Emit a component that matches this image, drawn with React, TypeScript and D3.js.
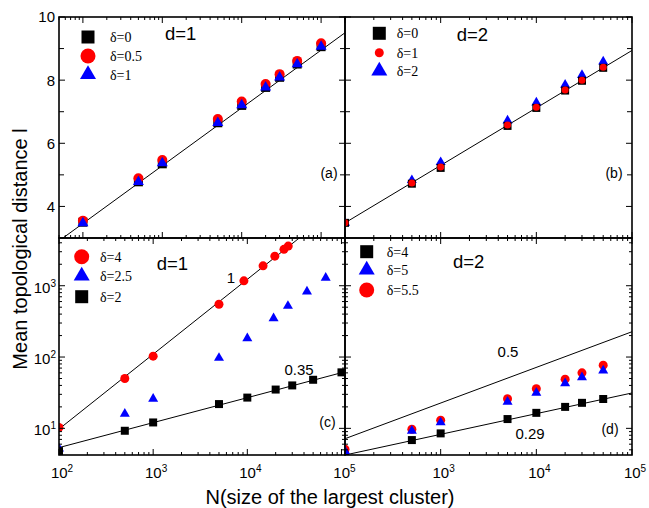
import React, { useRef, useEffect } from "react";
import * as d3 from "d3";

// ---- data ----
// (a) d=1, linear l vs log N
const nA = [100, 500, 1000, 5000, 10000, 20000, 30000, 50000, 100000];
const aDelta0 = [3.5, 4.78, 5.35, 6.65, 7.2, 7.77, 8.09, 8.51, 9.06];
const aDelta05 = [3.55, 4.89, 5.47, 6.77, 7.32, 7.88, 8.19, 8.61, 9.17];
const aDelta1 = [3.47, 4.78, 5.37, 6.65, 7.21, 7.77, 8.09, 8.51, 9.06];

// (b) d=2
const nB = [100, 500, 1000, 5000, 10000, 20000, 30000, 50000];
const bDelta0 = [3.48, 4.72, 5.22, 6.55, 7.12, 7.67, 7.98, 8.39];
const bDelta1 = [3.48, 4.74, 5.25, 6.58, 7.14, 7.69, 8.0, 8.41];
const bDelta2 = [3.48, 4.83, 5.4, 6.72, 7.29, 7.85, 8.16, 8.59];

// (c) d=1, log-log
const nC4 = [100, 500, 1000, 5000, 9200, 14700, 19600, 24500, 27200];
const cDelta4 = [10.3, 50, 103, 550, 1170, 1900, 2600, 3240, 3600];
const nC25 = [100, 500, 1000, 5000, 10000, 19000, 27000, 43000, 68000];
const cDelta25 = [5.2, 16, 26, 97, 183, 350, 520, 830, 1290];
const nC2 = [100, 500, 1000, 5000, 10000, 20000, 30000, 50000, 100000];
const cDelta2 = [4.8, 9.25, 12.1, 21.9, 27, 35, 40, 48, 61];

// (d) d=2, log-log
const nD = [100, 500, 1000, 5000, 10000, 20000, 30000, 50000];
const dDelta4 = [4.5, 6.85, 8.5, 13.5, 16.5, 20, 22.8, 25.8];
const dDelta5 = [4.8, 9.25, 12.1, 23.6, 31.5, 42.8, 52, 64.6];
const dDelta55 = [5.1, 9.7, 13, 26, 36, 49, 60, 77];

// fitted lines: value = a + b*(log10 N - 2)  (log10 of value for log panels)
const fitA = { a: 3.46, b: 1.83 };
const fitB = { a: 3.48, b: 1.82 };
const fitC1 = { a: 0.99, b: 1.05 };
const fitC035 = { a: 0.73, b: 0.35 };
const fitD05 = { a: 0.855, b: 0.5 };
const fitD029 = { a: 0.626, b: 0.29 };

const linTicksMajor = [4, 6, 8, 10];
const linTicksMinor = [3, 5, 7, 9];

const W = 649;
const H = 508;
const X0 = 59, XM = 345, X1 = 632;
const Y0 = 17, YM = 238, Y1 = 455;

const SANS = "'Liberation Sans', Arial, Helvetica, sans-serif";
const SERIF = "'Liberation Serif', 'Times New Roman', serif";

const symbolPath = (shape, w) => {
  if (shape === "square") return d3.symbol(d3.symbolSquare, w * w)();
  if (shape === "circle") return d3.symbol(d3.symbolCircle, (Math.PI * w * w) / 4)();
  return d3.symbol(d3.symbolTriangle, (Math.sqrt(3) / 4) * w * w)();
};

const logTicks = (domain) => {
  const major = [];
  const minor = [];
  const lo = Math.floor(Math.log10(domain[0]));
  const hi = Math.ceil(Math.log10(domain[1]));
  for (let e = lo; e <= hi; e++) {
    for (let k = 1; k <= 9; k++) {
      const v = k * Math.pow(10, e);
      if (v < domain[0] * 0.999 || v > domain[1] * 1.001) continue;
      (k === 1 ? major : minor).push(v);
    }
  }
  return { major, minor };
};

const App = () => {
  const svgRef = useRef(null);

  useEffect(() => {
    const svg = d3.select(svgRef.current);
    svg.selectAll("*").remove();
    const defs = svg.append("defs");

    const xA = d3.scaleLog().domain([50, 2e5]).range([X0, XM]);
    const xB = d3.scaleLog().domain([100, 1e5]).range([XM, X1]);
    const xC = d3.scaleLog().domain([100, 1.09e5]).range([X0, XM]);
    const xD = d3.scaleLog().domain([100, 1e5]).range([XM, X1]);
    const yTop = d3.scaleLinear().domain([3, 10]).range([YM, Y0]);
    const yBot = d3.scaleLog().domain([4.23, 4670]).range([Y1, YM]);

    const drawPanel = (p) => {
      const [px0, px1] = p.x.range();
      const [py1, py0] = p.y.range();
      const clipId = "clip-" + p.id;
      defs
        .append("clipPath")
        .attr("id", clipId)
        .append("rect")
        .attr("x", px0)
        .attr("y", py0)
        .attr("width", px1 - px0)
        .attr("height", py1 - py0);

      const g = svg.append("g");
      const plot = g.append("g").attr("clip-path", `url(#${clipId})`);

      // fit lines
      const line = d3
        .line()
        .x((d) => p.x(d[0]))
        .y((d) => p.y(d[1]));
      p.fits.forEach((f) => {
        const pts = p.x.domain().map((n) => {
          const v = f.a + f.b * (Math.log10(n) - 2);
          return [n, p.logY ? Math.pow(10, v) : v];
        });
        plot
          .append("path")
          .datum(pts)
          .attr("d", line)
          .attr("fill", "none")
          .attr("stroke", "#000")
          .attr("stroke-width", 1);
      });

      // markers
      p.series.forEach((s) => {
        plot
          .append("g")
          .selectAll("path")
          .data(s.n.map((n, i) => [n, s.v[i]]))
          .join("path")
          .attr("transform", (d) => `translate(${p.x(d[0])},${p.y(d[1])})`)
          .attr("d", symbolPath(s.shape, s.size))
          .attr("fill", s.color);
      });

      // ticks, all four sides pointing inwards
      const ticks = g.append("g").attr("stroke", "#000").attr("stroke-width", 1);
      const xt = logTicks(p.x.domain());
      const yt = p.logY
        ? logTicks(p.y.domain())
        : { major: linTicksMajor, minor: linTicksMinor };
      const addX = (vals, len) =>
        vals.forEach((v) => {
          const x = p.x(v);
          ticks.append("line").attr("x1", x).attr("x2", x).attr("y1", py1).attr("y2", py1 - len);
          ticks.append("line").attr("x1", x).attr("x2", x).attr("y1", py0).attr("y2", py0 + len);
        });
      const addY = (vals, len) =>
        vals.forEach((v) => {
          const y = p.y(v);
          ticks.append("line").attr("x1", px0).attr("x2", px0 + len).attr("y1", y).attr("y2", y);
          ticks.append("line").attr("x1", px1).attr("x2", px1 - len).attr("y1", y).attr("y2", y);
        });
      addX(xt.major, 6);
      addX(xt.minor, 3);
      addY(yt.major, 6);
      addY(yt.minor, p.logY ? 3 : 5);

      // frame
      g.append("rect")
        .attr("x", px0)
        .attr("y", py0)
        .attr("width", px1 - px0)
        .attr("height", py1 - py0)
        .attr("fill", "none")
        .attr("stroke", "#000")
        .attr("stroke-width", 1.6);

      // legend
      p.legend.rows.forEach((r, i) => {
        const cy = p.legend.ys[i];
        g.append("path")
          .attr("transform", `translate(${p.legend.x},${cy})`)
          .attr("d", symbolPath(r.shape, r.size))
          .attr("fill", r.color);
        g.append("text")
          .attr("x", p.legend.tx)
          .attr("y", cy + 5)
          .attr("font-family", SERIF)
          .attr("font-size", 14)
          .text(r.label);
      });

      g.append("text")
        .attr("x", p.title.x)
        .attr("y", p.title.y)
        .attr("font-family", SANS)
        .attr("font-size", 18.5)
        .text(p.title.text);

      g.append("text")
        .attr("x", p.tag.x)
        .attr("y", p.tag.y)
        .attr("text-anchor", "middle")
        .attr("font-family", SANS)
        .attr("font-size", 14)
        .text(p.tag.text);

      (p.notes || []).forEach((n) => {
        g.append("text")
          .attr("x", n.x)
          .attr("y", n.y)
          .attr("text-anchor", "middle")
          .attr("font-family", SANS)
          .attr("font-size", 15)
          .text(n.text);
      });
    };

    drawPanel({
      id: "a",
      x: xA,
      y: yTop,
      logY: false,
      fits: [fitA],
      series: [
        { n: nA, v: aDelta0, shape: "square", color: "#000", size: 9 },
        { n: nA, v: aDelta05, shape: "circle", color: "#ff0000", size: 10 },
        { n: nA, v: aDelta1, shape: "triangle", color: "#0000ff", size: 11 },
      ],
      legend: {
        x: 88,
        tx: 110,
        ys: [37, 56, 74.5],
        rows: [
          { label: "δ=0", shape: "square", color: "#000", size: 13 },
          { label: "δ=0.5", shape: "circle", color: "#ff0000", size: 15 },
          { label: "δ=1", shape: "triangle", color: "#0000ff", size: 16 },
        ],
      },
      title: { text: "d=1", x: 165, y: 40 },
      tag: { text: "(a)", x: 329, y: 178 },
    });

    drawPanel({
      id: "b",
      x: xB,
      y: yTop,
      logY: false,
      fits: [fitB],
      series: [
        { n: nB, v: bDelta2, shape: "triangle", color: "#0000ff", size: 10 },
        { n: nB, v: bDelta0, shape: "square", color: "#000", size: 8 },
        { n: nB, v: bDelta1, shape: "circle", color: "#ff0000", size: 7 },
      ],
      legend: {
        x: 379.3,
        tx: 396.7,
        ys: [33.3, 52.7, 71],
        rows: [
          { label: "δ=0", shape: "square", color: "#000", size: 13 },
          { label: "δ=1", shape: "circle", color: "#ff0000", size: 9 },
          { label: "δ=2", shape: "triangle", color: "#0000ff", size: 16 },
        ],
      },
      title: { text: "d=2", x: 456.7, y: 40.7 },
      tag: { text: "(b)", x: 614, y: 178 },
    });

    drawPanel({
      id: "c",
      x: xC,
      y: yBot,
      logY: true,
      fits: [fitC1, fitC035],
      series: [
        { n: nC4, v: cDelta4, shape: "circle", color: "#ff0000", size: 9 },
        { n: nC25, v: cDelta25, shape: "triangle", color: "#0000ff", size: 10 },
        { n: nC2, v: cDelta2, shape: "square", color: "#000", size: 8 },
      ],
      legend: {
        x: 81.7,
        tx: 100,
        ys: [256.7, 276, 296.7],
        rows: [
          { label: "δ=4", shape: "circle", color: "#ff0000", size: 15 },
          { label: "δ=2.5", shape: "triangle", color: "#0000ff", size: 16 },
          { label: "δ=2", shape: "square", color: "#000", size: 13 },
        ],
      },
      title: { text: "d=1", x: 156.7, y: 270 },
      tag: { text: "(c)", x: 327.5, y: 427 },
      notes: [
        { text: "1", x: 231, y: 283 },
        { text: "0.35", x: 299, y: 375 },
      ],
    });

    drawPanel({
      id: "d",
      x: xD,
      y: yBot,
      logY: true,
      fits: [fitD05, fitD029],
      series: [
        { n: nD, v: dDelta4, shape: "square", color: "#000", size: 8 },
        { n: nD, v: dDelta55, shape: "circle", color: "#ff0000", size: 9 },
        { n: nD, v: dDelta5, shape: "triangle", color: "#0000ff", size: 10 },
      ],
      legend: {
        x: 366.7,
        tx: 386.7,
        ys: [251.7, 270, 290],
        rows: [
          { label: "δ=4", shape: "square", color: "#000", size: 13 },
          { label: "δ=5", shape: "triangle", color: "#0000ff", size: 16 },
          { label: "δ=5.5", shape: "circle", color: "#ff0000", size: 15 },
        ],
      },
      title: { text: "d=2", x: 453, y: 268 },
      tag: { text: "(d)", x: 610, y: 434 },
      notes: [
        { text: "0.5", x: 508, y: 357 },
        { text: "0.29", x: 530, y: 439 },
      ],
    });

    // tick labels
    const labels = svg.append("g").attr("font-family", SANS).attr("fill", "#000");
    linTicksMajor.forEach((v) => {
      labels
        .append("text")
        .attr("x", 55)
        .attr("y", yTop(v))
        .attr("dy", "0.36em")
        .attr("text-anchor", "end")
        .attr("font-size", 15)
        .text(v);
    });
    const powLabel = (x, y, anchor, e) => {
      const t = labels
        .append("text")
        .attr("x", x)
        .attr("y", y)
        .attr("text-anchor", anchor)
        .attr("font-size", 15);
      t.append("tspan").text("10");
      t.append("tspan").attr("dy", -6).attr("font-size", 10).text(e);
    };
    [10, 100, 1000].forEach((v) => {
      powLabel(56, yBot(v) + 7, "end", Math.round(Math.log10(v)));
    });
    [100, 1000, 10000, 100000].forEach((v) => {
      powLabel(xC(v) + 3, 477.5, "middle", Math.round(Math.log10(v)));
    });
    [1000, 10000, 100000].forEach((v) => {
      powLabel(xD(v) + 3, 477.5, "middle", Math.round(Math.log10(v)));
    });

    // axis titles
    svg
      .append("text")
      .attr("x", 330)
      .attr("y", 504)
      .attr("text-anchor", "middle")
      .attr("font-family", SANS)
      .attr("font-size", 20)
      .text("N(size of the largest cluster)");

    svg
      .append("text")
      .attr("transform", "translate(27,249) rotate(-90)")
      .attr("text-anchor", "middle")
      .attr("font-family", SANS)
      .attr("font-size", 20)
      .text("Mean topological distance l");
  }, []);

  return (
    <svg
      ref={svgRef}
      width={W}
      height={H}
      style={{ position: "absolute", left: 0, top: 0, background: "#fff" }}
    ></svg>
  );
};

export default App;
